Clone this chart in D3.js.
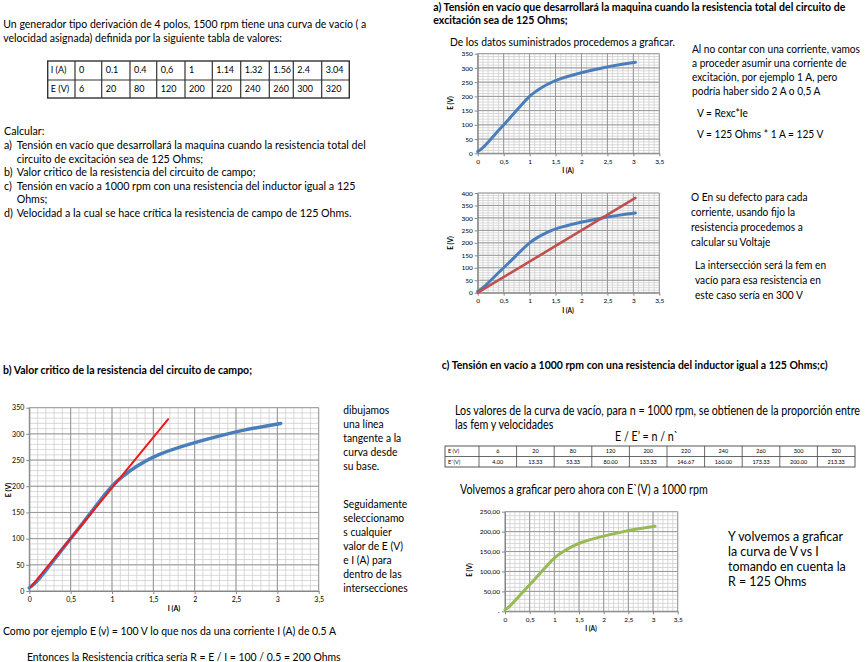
<!DOCTYPE html>
<html><head><meta charset="utf-8">
<script src="https://cdn.jsdelivr.net/npm/d3@7"></script>
<style>
body{margin:0;background:#fff}
svg{display:block}
text{font-family:Lato,"Open Sans","DejaVu Sans",sans-serif;fill:#000}
</style>
</head><body>
<svg id="c" width="865" height="662"></svg>
<script>
// ---------------- DATA ----------------
const currentA = [0, 0.1, 0.4, 0.6, 1, 1.14, 1.32, 1.56, 2.4, 3.04];
const currentLabels = ["0", "0.1", "0.4", "0,6", "1", "1.14", "1.32", "1.56", "2.4", "3.04"];
const emfV = [6, 20, 80, 120, 200, 220, 240, 260, 300, 320];
const emfLabels = ["6", "20", "80", "120", "200", "220", "240", "260", "300", "320"];
const emf1000 = [4.00, 13.33, 53.33, 80.00, 133.33, 146.67, 160.00, 173.33, 200.00, 213.33];
const fieldLineI = [0, 3.04];
const fieldLineE = [0, 380];
const tangentI = [0.02, 1.68];
const tangentE = [8, 328];
const xTicks = [0, 0.5, 1, 1.5, 2, 2.5, 3, 3.5];
const yTicks350 = [0, 50, 100, 150, 200, 250, 300, 350];
const yTicks400 = [0, 50, 100, 150, 200, 250, 300, 350, 400];
const yTicks250 = [0, 50, 100, 150, 200, 250];

const svg = d3.select("#c");

function txt(x, y, s, size, bold, anchor) {
  const t = svg.append("text").attr("x", x).attr("y", y + size * 0.35)
    .attr("font-size", size).text(s);
  if (bold) t.attr("font-weight", "bold");
  if (anchor) t.attr("text-anchor", anchor);
  return t;
}
// a block of lines sharing one font size and one horizontal squeeze factor,
// taken from a reference line whose width is known in the picture
function block(items, size, bold, refText, refWidth) {
  const probe = txt(0, 0, refText, size, bold);
  const scale = Math.min(1, refWidth / probe.node().getComputedTextLength());
  probe.remove();
  items.forEach(([x, y, s]) => {
    const t = txt(x, y, s, size, bold);
    if (scale < 1) {
      const w = t.node().getComputedTextLength();
      t.attr("textLength", w * scale).attr("lengthAdjust", "spacingAndGlyphs");
    }
  });
}

// ---------------- TOP-LEFT TEXT ----------------
const intro = ["Un generador tipo derivación de 4 polos, 1500 rpm tiene una curva de vacío ( a",
  "velocidad asignada) definida por la siguiente tabla de valores:"];
block([[3.3, 24, intro[0]], [3.3, 38, intro[1]]], 12, false, intro[0], 363);

// table
const colX = [47.7, 75, 101.7, 130, 156.7, 185, 212.3, 240.7, 269.3, 293.3, 321.7, 349.3];
const rowY = [61, 80, 98];
const tb = svg.append("g");
tb.append("rect").attr("x", colX[0]).attr("y", rowY[0]).attr("width", colX[11] - colX[0])
  .attr("height", rowY[2] - rowY[0]).attr("fill", "none").attr("stroke", "#333").attr("stroke-width", 1.4);
colX.slice(1, 11).forEach(x => tb.append("line").attr("x1", x).attr("x2", x).attr("y1", rowY[0]).attr("y2", rowY[2]).attr("stroke", "#333").attr("stroke-width", 1.2));
tb.append("line").attr("x1", colX[0]).attr("x2", colX[11]).attr("y1", rowY[1]).attr("y2", rowY[1]).attr("stroke", "#333").attr("stroke-width", 1.2);
txt(colX[0] + 3, 70, "I (A)", 9);
txt(colX[0] + 3, 89, "E (V)", 9);
currentLabels.forEach((s, i) => txt(colX[i + 1] + 4, 70, s, 9));
emfLabels.forEach((s, i) => txt(colX[i + 1] + 4, 89, s, 9));

const calc = ["Calcular:", "a)", "Tensión en vacío que desarrollará la maquina cuando la resistencia total del",
  "circuito de excitación sea de 125 Ohms;", "b)", "Valor critico de la resistencia del circuito de campo;",
  "c)", "Tensión en vacío a 1000 rpm con una resistencia del inductor igual a 125", "Ohms;",
  "d)", "Velocidad a la cual se hace crítica la resistencia de campo de 125 Ohms."];
block([[4, 131, calc[0]], [4, 145, calc[1]], [16.7, 145, calc[2]], [16.7, 158.5, calc[3]],
  [4, 172, calc[4]], [16.7, 172, calc[5]], [4, 185.5, calc[6]], [16.7, 185.5, calc[7]],
  [16.7, 199, calc[8]], [4, 212.5, calc[9]], [16.7, 212.5, calc[10]]], 11.5, false, calc[2], 349);

// ---------------- TOP-RIGHT TEXT ----------------
const headA = ["a) Tensión en vacío que desarrollará la maquina cuando la resistencia total del circuito de",
  "excitación sea de 125 Ohms;"];
block([[433.3, 6.5, headA[0]], [433.3, 20, headA[1]]], 11.5, true, headA[0], 412);
const graf = "De los datos suministrados procedemos a graficar.";
block([[450, 42, graf]], 12, false, graf, 225);
const sideA = ["Al no contar con una corriente, vamos", "a proceder asumir una corriente de",
  "excitación, por ejemplo 1 A, pero", "podría haber sido 2 A o 0,5 A", "V = Rexc*Ie",
  "V = 125 Ohms * 1 A =  125 V", "O En su defecto para cada", "corriente, usando fijo la",
  "resistencia procedemos a", "calcular su Voltaje", "La intersección será la fem en",
  "vacío para esa resistencia en", "este caso sería en 300 V"];
block([[692, 49, sideA[0]], [692, 63, sideA[1]], [692, 77, sideA[2]], [692, 91, sideA[3]],
  [697, 113, sideA[4]], [697, 134, sideA[5]], [691, 197, sideA[6]], [691, 212, sideA[7]],
  [691, 227, sideA[8]], [691, 242, sideA[9]], [695, 265, sideA[10]], [695, 280, sideA[11]],
  [695, 295, sideA[12]]], 12, false, sideA[0], 168);

// ---------------- BOTTOM-LEFT TEXT ----------------
const headB = "b) Valor critico de la resistencia del circuito de campo;";
block([[3, 370, headB]], 12, true, headB, 249);
const sideB = ["dibujamos", "una línea", "tangente a la", "curva desde", "su base.",
  "Seguidamente", "seleccionamo", "s cualquier", "valor de E (V)", "e I (A) para", "dentro de las", "intersecciones"];
block(sideB.map((s, i) => [343.3, i < 5 ? 410 + i * 14 : 504 + (i - 5) * 14, s]), 12, false, sideB[5], 64);
const ex = ["Como por ejemplo E (v) = 100 V lo que nos da una corriente I (A) de 0.5 A",
  "Entonces la Resistencia crítica sería R = E / I = 100 / 0.5 = 200 Ohms"];
block([[3, 631, ex[0]], [27, 657, ex[1]]], 12, false, ex[0], 333);

// ---------------- BOTTOM-RIGHT TEXT ----------------
const headC = "c) Tensión en vacío a 1000 rpm con una resistencia del inductor igual a 125 Ohms;c)";
block([[441.7, 365, headC]], 12, true, headC, 386);
const textC = ["Los valores de la curva de vacío, para n = 1000 rpm, se obtienen de la proporción entre",
  "las fem y velocidades", "E / E’  =  n /  n`", "Volvemos a graficar pero ahora con E`(V) a 1000 rpm"];
block([[455, 411, textC[0]], [455, 425, textC[1]], [615, 437, textC[2]], [460, 490, textC[3]]],
  12.5, false, textC[0], 405);

// table 2
const t2x0 = 445, t2x1 = 855, t2c1 = 479, t2y = [446, 456.5, 467];
const t2 = svg.append("g");
const t2w = (t2x1 - t2c1) / 10;
t2.append("rect").attr("x", t2x0).attr("y", t2y[0]).attr("width", t2x1 - t2x0).attr("height", t2y[2] - t2y[0])
  .attr("fill", "none").attr("stroke", "#444").attr("stroke-width", 0.9);
t2.append("line").attr("x1", t2x0).attr("x2", t2x1).attr("y1", t2y[1]).attr("y2", t2y[1]).attr("stroke", "#444").attr("stroke-width", 0.8);
d3.range(0, 10).forEach(i => t2.append("line").attr("x1", t2c1 + i * t2w).attr("x2", t2c1 + i * t2w)
  .attr("y1", t2y[0]).attr("y2", t2y[2]).attr("stroke", "#444").attr("stroke-width", 0.8));
txt(t2x0 + 3, 451.3, "E (V)", 5.5);
txt(t2x0 + 3, 461.8, "E`(V)", 5.5);
emfV.forEach((v, i) => txt(t2c1 + (i + 0.5) * t2w, 451.3, String(v), 5.5, false, "middle"));
emf1000.forEach((v, i) => txt(t2c1 + (i + 0.5) * t2w, 461.8, v.toFixed(2), 5.5, false, "middle"));

const sideC = ["Y volvemos a graficar", "la curva de V vs I", "tomando en cuenta la", "R = 125 Ohms"];
block(sideC.map((s, i) => [728, 537 + i * 15, s]), 12.5, false, sideC[0], 115);

// ---------------- CHARTS ----------------
const fmtX = d => d3.format(".1~f")(d).replace(".", ",");

function chart(cfg) {
  const g = svg.append("g");
  const x = d3.scaleLinear().domain([0, 3.5]).range([cfg.left, cfg.right]);
  const y = d3.scaleLinear().domain([0, cfg.yMax]).range([cfg.bottom, cfg.top]);
  // minor grid
  d3.range(0, 3.5001, 0.1).forEach(v => g.append("line").attr("x1", x(v)).attr("x2", x(v))
    .attr("y1", cfg.top).attr("y2", cfg.bottom).attr("stroke", "#cfcfcf").attr("stroke-width", 0.8));
  d3.range(0, cfg.yMax + 0.001, 10).forEach(v => g.append("line").attr("x1", cfg.left).attr("x2", cfg.right)
    .attr("y1", y(v)).attr("y2", y(v)).attr("stroke", "#cfcfcf").attr("stroke-width", 0.8));
  // major grid
  xTicks.forEach(v => g.append("line").attr("x1", x(v)).attr("x2", x(v))
    .attr("y1", cfg.top).attr("y2", cfg.bottom).attr("stroke", "#8f8f8f").attr("stroke-width", 0.9));
  cfg.yTicks.forEach(v => g.append("line").attr("x1", cfg.left).attr("x2", cfg.right)
    .attr("y1", y(v)).attr("y2", y(v)).attr("stroke", "#8f8f8f").attr("stroke-width", 0.9));
  // axes
  const ax = g.append("g").attr("transform", `translate(0,${cfg.bottom})`)
    .call(d3.axisBottom(x).tickValues(xTicks).tickFormat(fmtX).tickSize(3).tickSizeOuter(0));
  const ay = g.append("g").attr("transform", `translate(${cfg.left},0)`)
    .call(d3.axisLeft(y).tickValues(cfg.yTicks).tickFormat(cfg.yFmt).tickSize(3).tickSizeOuter(0));
  [ax, ay].forEach(a => {
    a.selectAll("path,line").attr("stroke", "#868686");
    a.selectAll("text").attr("font-size", cfg.fs).attr("fill", "#333")
      .attr("font-family", "Lato,'Open Sans',sans-serif");
  });
  ay.selectAll("text").attr("x", -5);
  ax.selectAll("text").attr("y", 6);
  // series
  cfg.series.forEach(s => {
    const pts = s.xs.map((v, i) => [v, s.ys[i]]);
    const line = d3.line().x(d => x(d[0])).y(d => y(d[1]))
      .curve(s.smooth ? d3.curveCatmullRom.alpha(0.5) : d3.curveLinear);
    g.append("path").datum(pts).attr("d", line).attr("fill", "none")
      .attr("stroke", s.color).attr("stroke-width", s.width).attr("stroke-linecap", "round");
  });
  // axis titles
  g.append("text").attr("x", cfg.xl[0]).attr("y", cfg.xl[1]).attr("text-anchor", "middle")
    .attr("font-size", cfg.fs).attr("font-weight", "bold").attr("fill", "#333").text("I (A)");
  g.append("text").attr("transform", `translate(${cfg.yl[0]},${cfg.yl[1]}) rotate(-90)`)
    .attr("text-anchor", "middle").attr("font-size", cfg.fs).attr("font-weight", "bold")
    .attr("fill", "#333").text("E (V)");
}

const blue = "#4a7ebb", red = "#c0504d", brightRed = "#f01818", green = "#98b954";
const fmtInt = d3.format("d");

chart({left: 477.7, right: 659.3, top: 53.7, bottom: 153.3, yMax: 350, yTicks: yTicks350, yFmt: fmtInt, fs: 6.5,
  xl: [568, 173], yl: [453, 103],
  series: [{xs: currentA, ys: emfV, color: blue, width: 3, smooth: true}]});

chart({left: 477.7, right: 659.3, top: 193, bottom: 292.7, yMax: 400, yTicks: yTicks400, yFmt: fmtInt, fs: 6.5,
  xl: [568, 313], yl: [453, 243],
  series: [{xs: currentA, ys: emfV, color: blue, width: 3, smooth: true},
           {xs: fieldLineI, ys: fieldLineE, color: red, width: 2.6, smooth: false}]});

chart({left: 29.3, right: 318.7, top: 407.7, bottom: 591, yMax: 350, yTicks: yTicks350, yFmt: fmtInt, fs: 7,
  xl: [174, 611], yl: [11, 490],
  series: [{xs: currentA, ys: emfV, color: blue, width: 3.5, smooth: true},
           {xs: tangentI, ys: tangentE, color: brightRed, width: 2, smooth: false}]});

chart({left: 505, right: 677.7, top: 511.7, bottom: 611.3, yMax: 250, yTicks: yTicks250,
  yFmt: d => d === 0 ? "-" : d3.format(".2f")(d).replace(".", ","), fs: 6.5,
  xl: [591, 631], yl: [472, 570],
  series: [{xs: currentA, ys: emf1000, color: green, width: 3, smooth: true}]});
</script>
</body></html>
